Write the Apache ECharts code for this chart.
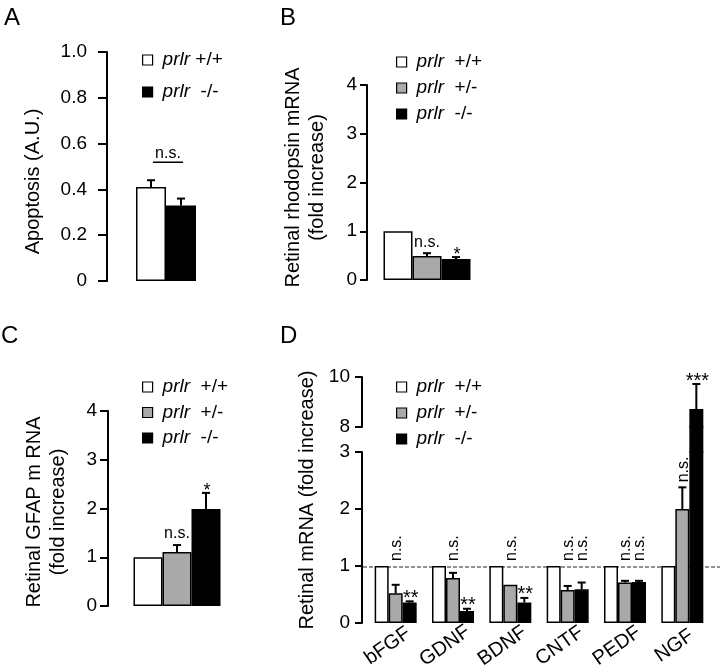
<!DOCTYPE html>
<html><head><meta charset="utf-8">
<script src="https://cdn.jsdelivr.net/npm/echarts@6/dist/echarts.min.js"></script>
<style>html,body{margin:0;padding:0;background:#fff}#c{width:720px;height:672px}</style>
</head><body><div id="c"></div>
<script>
// ---------------- data ----------------
const GENOTYPES = ['prlr +/+', 'prlr +/-', 'prlr -/-'];

// Panel A: apoptosis
const A_MEAN = [0.41, 0.33];
const A_SEM = [0.03, 0.03];
const A_SIG = 'n.s.';

// Panel B: rhodopsin mRNA
const B_MEAN = [1.0, 0.49, 0.43];
const B_SEM = [0, 0.06, 0.04];
const B_SIG = ['', 'n.s.', '*'];

// Panel C: GFAP mRNA
const C_MEAN = [1.0, 1.11, 1.99];
const C_SEM = [0, 0.14, 0.33];
const C_SIG = ['', 'n.s.', '*'];

// Panel D: growth factors
const D_CATS = ['bFGF', 'GDNF', 'BDNF', 'CNTF', 'PEDF', 'NGF'];
const D_WT = [1, 1, 1, 1, 1, 1];
const D_HET = [0.52, 0.79, 0.67, 0.58, 0.71, 2.0];
const D_HET_SEM = [0.15, 0.09, 0, 0.07, 0.03, 0.38];
const D_KO = [0.36, 0.21, 0.36, 0.59, 0.72, 8.72];
const D_KO_SEM = [0.02, 0.04, 0.08, 0.12, 0.02, 1.0];
const D_HET_SIG = ['n.s.', 'n.s.', 'n.s.', 'n.s.', 'n.s.', 'n.s.'];
const D_KO_SIG = ['**', '**', '**', 'n.s.', 'n.s.', '***'];
const D_REF = 1;
const D_LOW = [0, 3];
const D_HIGH = [8, 10];

// ---------------- style ----------------
const FONT = "'Liberation Sans', Arial, Helvetica, sans-serif";
const FILL = ['#ffffff', '#a9a9a9', '#000000'];

function barSeries(gIdx, axis, data, bw) {
  return {type: 'bar', name: GENOTYPES[gIdx], xAxisIndex: axis, yAxisIndex: axis, data: data,
    barWidth: bw, barGap: '0%', clip: true, z: 2, silent: true, animation: false,
    itemStyle: {color: FILL[gIdx], borderColor: '#000', borderWidth: 1.5}};
}

function errSeries(axis, items, nSub, bw) {
  return {type: 'custom', xAxisIndex: axis, yAxisIndex: axis, clip: true, z: 3, silent: true, animation: false,
    encode: {x: 0, y: 2}, data: items,
    renderItem: function (params, api) {
      const cat = api.value(0), sub = api.value(1), m = api.value(2), e = api.value(3);
      if (!(e > 0)) return null;
      const b = api.coord([cat, m]), t = api.coord([cat, m + e]);
      const x = b[0] + (sub - (nSub - 1) / 2) * bw;
      return {type: 'group', children: [
        {type: 'line', shape: {x1: x, y1: b[1], x2: x, y2: t[1]}, style: {stroke: '#000', lineWidth: 2}},
        {type: 'line', shape: {x1: x - 4, y1: t[1], x2: x + 4, y2: t[1]}, style: {stroke: '#000', lineWidth: 2}}
      ]};
    }};
}

function textEl(x, y, txt, fs, rot, va) {
  return {type: 'text', x: x, y: y, rotation: rot ? Math.PI / 2 : 0,
    style: {text: txt, x: 0, y: 0, fill: '#000', fontSize: fs, fontFamily: FONT,
      align: rot ? 'left' : 'center', textAlign: rot ? 'left' : 'center',
      verticalAlign: va, textVerticalAlign: va}};
}

function sigSeries(axis, items, nSub, bw, range, fsNs, fsStar) {
  return {type: 'custom', xAxisIndex: axis, yAxisIndex: axis, z: 4, silent: true, animation: false,
    encode: {x: 0, y: 1}, data: items.map(function (it) { return [it.cat, it.level]; }),
    renderItem: function (params, api) {
      const it = items[params.dataIndex];
      if (!it.text || it.level < range[0] || it.level > range[1]) return null;
      const p = api.coord([it.cat, it.level]);
      const x = p[0] + (it.sub - (nSub - 1) / 2) * bw;
      const star = it.text.indexOf('*') >= 0;
      if (star) return textEl(x + 1, p[1] + 7, it.text, fsStar, false, 'bottom');
      if (it.rot) return textEl(x + 1, p[1] - 5, it.text, fsNs, true, 'middle');
      return textEl(x, p[1] - 3, it.text, fsNs, false, 'bottom');
    }};
}

function yAx(grid, min, max, interval, tickLen, margin, extra) {
  const ax = {type: 'value', gridIndex: grid, min: min, max: max, interval: interval,
    axisLine: {show: true, lineStyle: {color: '#000', width: 2}},
    axisTick: {show: true, inside: false, length: tickLen, lineStyle: {color: '#000', width: 2}},
    axisLabel: {color: '#000', fontSize: 19, fontFamily: FONT, margin: margin},
    splitLine: {show: false},
    nameLocation: 'middle', nameTextStyle: {fontSize: 20, fontFamily: FONT, color: '#000', lineHeight: 24}};
  return Object.assign(ax, extra || {});
}
function nameStyle(pad) {
  return {fontSize: 20, fontFamily: FONT, color: '#000', lineHeight: 24, padding: pad};
}
function hiddenY(grid, min, max) {
  return {type: 'value', gridIndex: grid, min: min, max: max, show: false, splitLine: {show: false}};
}
function catX(grid, data) {
  return {type: 'category', gridIndex: grid, data: data, show: false};
}

function legendCfg(names, left, top, gap, twoSpace) {
  return {orient: 'vertical', left: left, top: top, itemWidth: 10, itemHeight: 10, itemGap: gap,
    selectedMode: false, icon: 'rect',
    data: names.map(function (n) {
      const i = GENOTYPES.indexOf(n);
      return {name: n, itemStyle: {color: FILL[i], borderColor: '#000', borderWidth: 1.2}};
    }),
    formatter: function (name) {
      const rest = name.slice(5);
      const sp = (twoSpace || rest === '-/-') ? '  ' : ' ';
      return '{i|prlr}' + sp + rest;
    },
    textStyle: {fontSize: 19, fontFamily: FONT, color: '#000', lineHeight: 20, padding: [0, 0, 0, 5],
      rich: {i: {fontStyle: 'italic', fontSize: 19, fontFamily: FONT, color: '#000', lineHeight: 20}}}};
}

// ---------------- build ----------------
const BW_A = 30, BW_BC = 29, BW_D = 14;

const grids = [
  {left: 107, top: 52, width: 118, height: 229},   // 0 A
  {left: 367, top: 85, width: 120, height: 195},   // 1 B
  {left: 108, top: 411, width: 138, height: 195},  // 2 C
  {left: 367, top: 452, width: 344, height: 171},  // 3 D lower
  {left: 367, top: 427, width: 344, height: 25},   // 4 D gap
  {left: 367, top: 377, width: 344, height: 50},   // 5 D upper
  {left: 362, top: 377, width: 349, height: 246},  // 6 D name frame
  {left: 359, top: 452, width: 344, height: 171}   // 7 D category labels
];

const xAxes = [
  catX(0, ['']), catX(1, ['']), catX(2, ['']),
  catX(3, D_CATS), catX(4, D_CATS), catX(5, D_CATS),
  catX(6, ['']),
  {type: 'category', gridIndex: 7, data: D_CATS, axisLine: {show: false}, axisTick: {show: false},
    axisLabel: {interval: 0, rotate: 35, margin: 27, align: 'center', verticalAlign: 'middle',
      color: '#000', fontSize: 20, fontFamily: FONT}}
];

const yAxes = [
  yAx(0, 0, 1, 0.2, 9, 20, {name: 'Apoptosis (A.U.)', nameGap: 62, nameTextStyle: nameStyle([0, 30, 0, 0]),
    axisLabel: {color: '#000', fontSize: 19, fontFamily: FONT, margin: 20,
      formatter: function (v) { return v === 0 ? '0' : v.toFixed(1); }}}),
  yAx(1, 0, 4, 1, 7, 10, {name: 'Retinal rhodopsin mRNA\n(fold increase)', nameGap: 38,
    nameTextStyle: nameStyle([0, 0, 0, 10])}),
  yAx(2, 0, 4, 1, 8, 11, {name: 'Retinal GFAP m RNA\n(fold increase)', nameGap: 38,
    nameTextStyle: nameStyle([0, 7, 0, 0])}),
  yAx(3, D_LOW[0], D_LOW[1], 1, 7, 12, {offset: 5}),
  hiddenY(4, D_LOW[1], D_HIGH[0]),
  yAx(5, D_HIGH[0], D_HIGH[1], 2, 7, 12, {offset: 5}),
  {type: 'value', gridIndex: 6, min: 0, max: 1, axisLine: {show: false}, axisTick: {show: false},
    axisLabel: {show: false}, splitLine: {show: false},
    name: 'Retinal mRNA (fold increase)', nameLocation: 'middle', nameGap: 45,
    nameTextStyle: {fontSize: 20, fontFamily: FONT, color: '#000'}},
  hiddenY(7, 0, 1)
];

const series = [];

// Panel A
series.push(barSeries(0, 0, [A_MEAN[0]], BW_A));
series.push(barSeries(2, 0, [A_MEAN[1]], BW_A));
series.push(errSeries(0, A_MEAN.map(function (m, i) { return [0, i, m, A_SEM[i]]; }), 2, BW_A));
const A_TOP = Math.max.apply(null, A_MEAN.map(function (m, i) { return m + A_SEM[i]; }));
series.push({type: 'custom', xAxisIndex: 0, yAxisIndex: 0, z: 4, silent: true, animation: false,
  encode: {x: 0, y: 1}, data: [[0, A_TOP]],
  renderItem: function (params, api) {
    const p = api.coord([0, api.value(1)]);
    const y = p[1] - 18;
    const x1 = p[0] - BW_A / 2 + 2, x2 = p[0] + BW_A / 2 + 2;
    return {type: 'group', children: [
      {type: 'line', shape: {x1: x1, y1: y, x2: x2, y2: y}, style: {stroke: '#000', lineWidth: 1.5}},
      textEl((x1 + x2) / 2, y - 1, A_SIG, 16, false, 'bottom')
    ]};
  }});

// Panels B and C
[[1, B_MEAN, B_SEM, B_SIG], [2, C_MEAN, C_SEM, C_SIG]].forEach(function (cfg) {
  const ax = cfg[0], mean = cfg[1], sem = cfg[2], sig = cfg[3];
  mean.forEach(function (m, i) { series.push(barSeries(i, ax, [m], BW_BC)); });
  series.push(errSeries(ax, mean.map(function (m, i) { return [0, i, m, sem[i]]; }), 3, BW_BC));
  series.push(sigSeries(ax, mean.map(function (m, i) {
    return {cat: 0, sub: i, level: m + sem[i], text: sig[i], rot: false};
  }), 3, BW_BC, [0, 4], 16, 18));
});

// Panel D
const D_SETS = [[D_WT, null], [D_HET, D_HET_SEM], [D_KO, D_KO_SEM]];
[3, 4, 5].forEach(function (ax) {
  D_SETS.forEach(function (s, i) { series.push(barSeries(i, ax, s[0], BW_D)); });
});
const D_ERR = [];
D_CATS.forEach(function (c, k) {
  D_ERR.push([k, 1, D_HET[k], D_HET_SEM[k]]);
  D_ERR.push([k, 2, D_KO[k], D_KO_SEM[k]]);
});
series.push(errSeries(3, D_ERR, 3, BW_D));
series.push(errSeries(5, D_ERR, 3, BW_D));
const D_SIG_ITEMS = [];
D_CATS.forEach(function (c, k) {
  [[1, D_HET, D_HET_SEM, D_HET_SIG], [2, D_KO, D_KO_SEM, D_KO_SIG]].forEach(function (s) {
    const top = s[1][k] + s[2][k];
    const txt = s[3][k];
    const ns = txt === 'n.s.';
    D_SIG_ITEMS.push({cat: k, sub: s[0], level: ns ? Math.max(D_WT[k], top) : top, text: txt, rot: ns});
  });
});
series.push(sigSeries(3, D_SIG_ITEMS, 3, BW_D, D_LOW, 16, 20));
series.push(sigSeries(5, D_SIG_ITEMS, 3, BW_D, D_HIGH, 16, 20));
// reference dashed line at fold increase = 1
series.push({type: 'custom', xAxisIndex: 3, yAxisIndex: 3, z: 1, silent: true, animation: false,
  encode: {x: 0, y: 1}, data: [[0, D_REF]],
  renderItem: function (params, api) {
    const p = api.coord([0, api.value(1)]);
    const cs = params.coordSys;
    return {type: 'line', shape: {x1: cs.x - 4, y1: p[1] + 1, x2: api.getWidth(), y2: p[1] + 1},
      style: {stroke: '#222', lineWidth: 1, lineDash: [4, 2]}};
  }});

const option = {
  animation: false,
  backgroundColor: '#fff',
  grid: grids,
  xAxis: xAxes,
  yAxis: yAxes,
  legend: [
    legendCfg([GENOTYPES[0], GENOTYPES[2]], 137, 45, 12, false),
    legendCfg(GENOTYPES, 391, 47, 6, true),
    legendCfg(GENOTYPES, 137, 372, 5.5, true),
    legendCfg(GENOTYPES, 391, 372, 6, true)
  ],
  graphic: [
    {type: 'text', left: 4, top: 6, style: {text: 'A', fontSize: 24, fontFamily: FONT, fill: '#000'}},
    {type: 'text', left: 280, top: 6, style: {text: 'B', fontSize: 24, fontFamily: FONT, fill: '#000'}},
    {type: 'text', left: 1, top: 324, style: {text: 'C', fontSize: 24, fontFamily: FONT, fill: '#000'}},
    {type: 'text', left: 280, top: 324, style: {text: 'D', fontSize: 24, fontFamily: FONT, fill: '#000'}}
  ],
  series: series
};

const chart = echarts.init(document.getElementById('c'), null, {renderer: 'canvas'});
chart.setOption(option);
</script></body></html>
